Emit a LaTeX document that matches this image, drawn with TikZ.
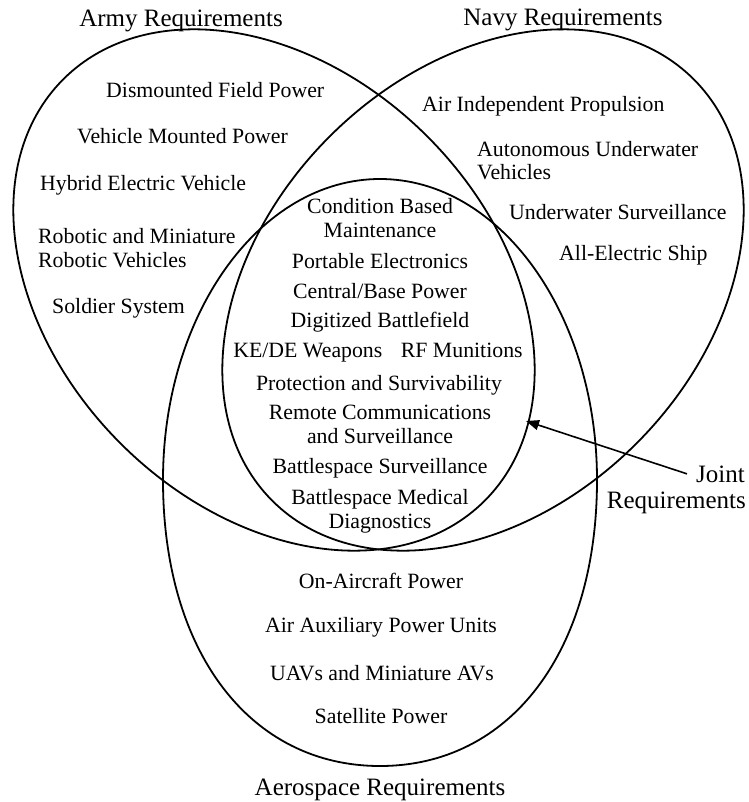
\documentclass[tikz,border=0pt]{standalone}
\usepackage{fontspec}
\setmainfont{Liberation Serif}
\usetikzlibrary{arrows.meta}
\begin{document}
\begin{tikzpicture}[x=1pt,y=-1pt,
  venn/.style={line width=1.8pt, black},
  ttl/.style={font=\fontsize{25}{27}\selectfont, inner sep=0pt, anchor=base},
  itm/.style={font=\fontsize{21.8}{23.5}\selectfont, inner sep=0pt, anchor=base},
  itml/.style={itm, anchor=base west, align=left},
  itmc/.style={itm, align=center},
  pointer/.style={line width=1.6pt, -{Triangle[length=13pt,width=10pt]}}]
\useasboundingbox (0,0) rectangle (748,802);
% Army
\draw[venn, rotate around={-45:(274,290)}] (274,290) ellipse [x radius=298pt, y radius=217pt];
% Navy
\draw[venn, rotate around={45:(483,290)}] (483,290) ellipse [x radius=298pt, y radius=217pt];
% Aerospace
\draw[venn] (380,179) .. controls (260,179) and (163,314) .. (163,480)
  .. controls (163,652) and (250,766) .. (380,766)
  .. controls (510,766) and (597,652) .. (597,480)
  .. controls (597,314) and (500,179) .. cycle;
% titles
\node[ttl] (army) at (181,27) {Army Requirements};
\node[ttl] (navy) at (563,26) {Navy Requirements};
\node[ttl] (aero) at (380,795) {Aerospace Requirements};
\node[ttl, anchor=base east] (joint) at (745,482) {Joint};
\node[ttl, anchor=base east] (jointreq) at (746,508) {Requirements};
% army items
\node[itml] (a1) at (106,98) {Dismounted Field Power};
\node[itml] (a2) at (77,144) {Vehicle Mounted Power};
\node[itml] (a3) at (40,191) {Hybrid Electric Vehicle};
\node[itml] (a4) at (38,267) {Robotic and Miniature\\Robotic Vehicles};
\node[itml] (a5) at (52,313) {Soldier System};
% navy items
\node[itml] (n1) at (422,112) {Air Independent Propulsion};
\node[itml] (n2) at (477,180) {Autonomous Underwater\\Vehicles};
\node[itml] (n3) at (509,220) {Underwater Surveillance};
\node[itml] (n4) at (559,260) {All-Electric Ship};
% joint items
\node[itmc] (j1) at (380,237) {Condition Based\\Maintenance};
\node[itmc] (j2) at (380,268) {Portable Electronics};
\node[itmc] (j3) at (380,298) {Central/Base Power};
\node[itmc] (j4) at (380,327) {Digitized Battlefield};
\node[itmc] (j5) at (378,357) {KE/DE Weapons\hspace{0.6em} RF Munitions};
\node[itmc] (j6) at (379,390) {Protection and Survivability};
\node[itmc] (j7) at (380,443) {Remote Communications\\and Surveillance};
\node[itmc] (j8) at (380,473) {Battlespace Surveillance};
\node[itmc] (j9) at (380,528) {Battlespace Medical\\Diagnostics};
% aerospace items
\node[itmc] (s1) at (381,588) {On-Aircraft Power};
\node[itmc] (s2) at (381,632) {Air Auxiliary Power Units};
\node[itmc] (s3) at (382,680) {UAVs and Miniature AVs};
\node[itmc] (s4) at (381,723) {Satellite Power};
% arrow
\coordinate (tip) at (526,421);
\draw[pointer] ([xshift=-9pt]joint.west) -- (tip);
\end{tikzpicture}
\end{document}
